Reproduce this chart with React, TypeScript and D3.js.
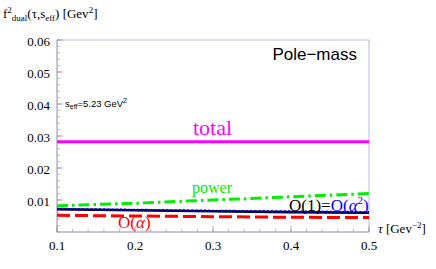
import React from "react";
import * as d3 from "d3";

const tauValues = [0.1, 0.2, 0.3, 0.4, 0.5];
const totalValues = [0.0282, 0.0282, 0.0282, 0.0282, 0.0282];
const powerValues = [0.0082, 0.009, 0.01, 0.011, 0.012];
const o1Values = [0.0071, 0.0068, 0.0065, 0.0062, 0.006];
const oa2Values = [0.0072, 0.0069, 0.0066, 0.0064, 0.0062];
const oaValues = [0.0052, 0.005, 0.0048, 0.0046, 0.0045];
const xTicks = [0.1, 0.2, 0.3, 0.4, 0.5];
const yTicks = [0.01, 0.02, 0.03, 0.04, 0.05, 0.06];

const W = 436;
const H = 269;
const x = d3.scaleLinear().domain([0.1, 0.5]).range([57, 369]);
const y = d3.scaleLinear().domain([0, 0.06]).range([232, 40]);

const lineGen = (vals: number[]) =>
  d3
    .line<number>()
    .x((_, i) => x(tauValues[i]))
    .y((d) => y(d))(vals) as string;

export default function App() {
  const serif = "'Liberation Serif', 'Times New Roman', serif";
  const sans = "'Liberation Sans', Arial, sans-serif";
  const xMinor = d3.range(0.1, 0.5001, 0.02);
  const yMinor = d3.range(0, 0.0601, 0.002);
  return (
    <svg
      width={W}
      height={H}
      style={{ position: "absolute", left: 0, top: 0, background: "#fff" }}
    >
      <defs>
        <clipPath id="plot">
          <rect x={57} y={40} width={312} height={192} />
        </clipPath>
      </defs>
      {/* frame */}
      <line x1={57} y1={40} x2={369} y2={40} stroke="#b8b8e0" strokeWidth={1} />
      <line x1={369} y1={40} x2={369} y2={232} stroke="#b8b8e0" strokeWidth={1} />
      <line x1={57} y1={40} x2={57} y2={232} stroke="#8e8ea8" strokeWidth={1} />
      <line x1={57} y1={232} x2={369} y2={232} stroke="#8e8ea8" strokeWidth={1} />
      {/* minor ticks */}
      {xMinor.map((t, i) => (
        <line key={"xm" + i} x1={x(t)} x2={x(t)} y1={232} y2={229} stroke="#8e8ea8" strokeWidth={0.6} />
      ))}
      {yMinor.map((t, i) => (
        <line key={"ym" + i} x1={57} x2={60} y1={y(t)} y2={y(t)} stroke="#8e8ea8" strokeWidth={0.6} />
      ))}
      {xTicks.map((t) => (
        <g key={"xt" + t}>
          <line x1={x(t)} x2={x(t)} y1={232} y2={226} stroke="#8e8ea8" strokeWidth={0.8} />
          <text x={x(t)} y={250} textAnchor="middle" fontFamily={serif} fontSize={13}>
            {d3.format(".1f")(t)}
          </text>
        </g>
      ))}
      {yTicks.map((t) => (
        <g key={"yt" + t}>
          <line x1={57} x2={63} y1={y(t)} y2={y(t)} stroke="#8e8ea8" strokeWidth={0.8} />
          <text x={50} y={y(t) + 5.5} textAnchor="end" fontFamily={serif} fontSize={13}>
            {d3.format(".2f")(t)}
          </text>
        </g>
      ))}
      {/* lines */}
      <g clipPath="url(#plot)" fill="none">
        <path d={lineGen(totalValues)} stroke="#ff00ff" strokeWidth={3.2} />
        <path d={lineGen(powerValues)} stroke="#00ee00" strokeWidth={3} strokeDasharray="11,4,2.5,4" />
        <path d={lineGen(o1Values)} stroke="#000" strokeWidth={2.6} />
        <path d={lineGen(oa2Values)} stroke="#0000ff" strokeWidth={2.4} strokeDasharray="2,2.2" />
        <path d={lineGen(oaValues)} stroke="#ff0000" strokeWidth={3} strokeDasharray="13,5" />
      </g>
      {/* labels */}
      <text x={193} y={135} fontFamily={serif} fontSize={22} fill="#ff00ff">total</text>
      <text x={192} y={193} fontFamily={serif} fontSize={16} fill="#00ee00">power</text>
      <text x={289} y={210.5} fontFamily={serif} fontSize={17} fill="#000">
        O(1)=<tspan fill="#0000ff">O(<tspan fontStyle="italic">α</tspan><tspan fontSize={11} dy={-7}>2</tspan><tspan dy={7}>)</tspan></tspan>
      </text>
      <text x={118} y={228} fontFamily={serif} fontSize={17} fill="#ff0000">
        O(<tspan fontStyle="italic">α</tspan>)
      </text>
      <text x={357} y={60} textAnchor="end" fontFamily={sans} fontSize={17} fill="#000">Pole−mass</text>
      <text x={65} y={106.5} fontFamily={sans} fontSize={9.5} fill="#000">
        s<tspan fontSize={7} dy={2}>eff</tspan><tspan dy={-2}>=5.23 GeV</tspan><tspan fontSize={7} dy={-4}>2</tspan>
      </text>
      <text x={3} y={18} fontFamily={serif} fontSize={13} fill="#000">
        f<tspan fontSize={9} dy={-5}>2</tspan><tspan fontSize={9} dy={8}>dual</tspan><tspan dy={-3}>(τ,s</tspan><tspan fontSize={9} dy={3}>eff</tspan><tspan dy={-3}>) [Gev</tspan><tspan fontSize={9} dy={-5}>2</tspan><tspan dy={5}>]</tspan>
      </text>
      <text x={378} y={233} fontFamily={serif} fontSize={13} fill="#000">
        <tspan fontStyle="italic">τ</tspan> [Gev<tspan fontSize={9} dy={-5}>−2</tspan><tspan dy={5}>]</tspan>
      </text>
    </svg>
  );
}
